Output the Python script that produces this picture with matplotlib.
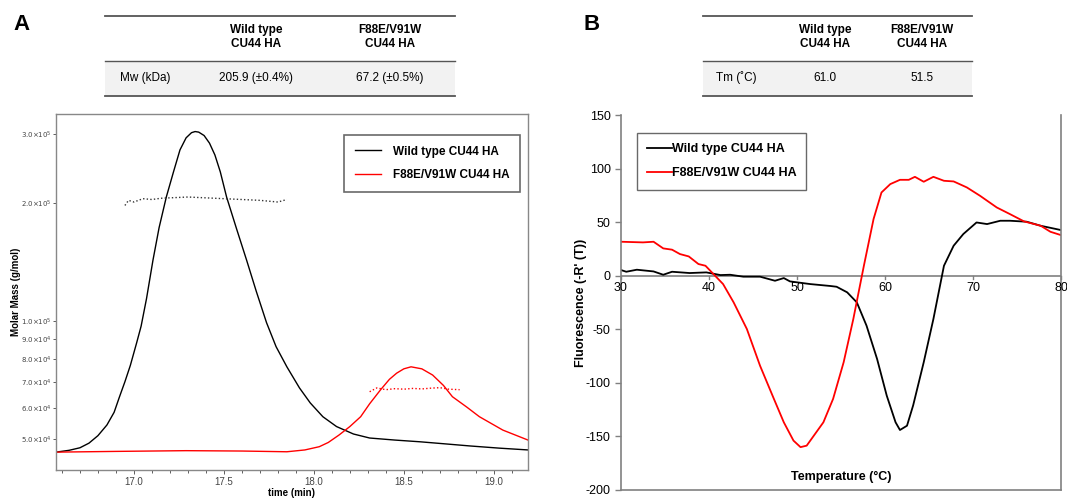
import matplotlib
matplotlib.use("Agg")
import matplotlib.pyplot as plt
from matplotlib.lines import Line2D
from matplotlib.patches import Rectangle

plt.rcParams['font.family'] = ['Liberation Sans', 'DejaVu Sans']
plt.rcParams['axes.unicode_minus'] = False

# ---- panel A: SEC-MALS ----
wt_time = [16.567, 16.64, 16.70, 16.75, 16.80, 16.85, 16.89, 16.92, 16.95, 16.98, 17.015, 17.04,
           17.07, 17.106, 17.14, 17.18, 17.22, 17.256, 17.29, 17.32, 17.34, 17.36, 17.39, 17.42,
           17.45, 17.48, 17.515, 17.57, 17.626, 17.68, 17.737, 17.79, 17.85, 17.92, 17.98, 18.05,
           18.126, 18.22, 18.31, 18.45, 18.59, 18.73, 18.87, 19.03, 19.19]
wt_signal = [46300, 46800, 47500, 48800, 51000, 54300, 58500, 64100, 70000, 77000, 87900, 97000,
             114000, 143000, 173000, 207000, 240000, 273000, 293000, 302000, 304000, 303000, 297000,
             284000, 265000, 240000, 207000, 172000, 143000, 119000, 99000, 86000, 76400, 67500,
             61800, 57000, 53800, 51500, 50300, 49700, 49200, 48600, 48000, 47400, 46900]

mut_time = [16.567, 16.9, 17.29, 17.6, 17.85, 17.95, 18.03, 18.08, 18.14, 18.20, 18.26, 18.31,
            18.37, 18.42, 18.46, 18.50, 18.54, 18.60, 18.66, 18.72, 18.77, 18.85, 18.92, 19.05, 19.19]
mut_signal = [46300, 46500, 46700, 46600, 46400, 46900, 47800, 49000, 51200, 53800, 57000, 61500,
              66700, 71000, 73600, 75500, 76400, 75500, 72800, 68500, 64100, 60300, 57000, 52700, 49700]

wt_mm_time = [16.95, 16.97, 17.0, 17.05, 17.1, 17.15, 17.2, 17.25, 17.3, 17.35, 17.4, 17.45, 17.5,
              17.55, 17.6, 17.65, 17.7, 17.75, 17.8, 17.85]
wt_mm = [197000, 203000, 201000, 205000, 204000, 205500, 206000, 206500, 207000, 206500, 206000,
         205500, 205000, 204500, 204000, 203500, 203000, 202000, 201000, 204000]

mut_mm_time = [18.31, 18.35, 18.40, 18.45, 18.50, 18.55, 18.60, 18.65, 18.70, 18.75, 18.81]
mut_mm = [66000, 67500, 66800, 67200, 67000, 67300, 67100, 67400, 67600, 67000, 66800]

mm_ticks = [5e4, 6e4, 7e4, 8e4, 9e4, 1e5, 2e5, 3e5]
mm_tick_labels = [r'$5.0{\times}10^{4}$', r'$6.0{\times}10^{4}$', r'$7.0{\times}10^{4}$',
                  r'$8.0{\times}10^{4}$', r'$9.0{\times}10^{4}$', r'$1.0{\times}10^{5}$',
                  r'$2.0{\times}10^{5}$', r'$3.0{\times}10^{5}$']
time_ticks = [17.0, 17.5, 18.0, 18.5, 19.0]

# ---- panel B: thermal melt ----
temp_wt = [30, 30.6, 31.8, 33.7, 34.8, 35.8, 37.8, 39.7, 41.3, 42.4, 43.9, 45.8, 47.5, 48.5, 49.2,
           51.5, 53.8, 54.5, 55.7, 56.8, 57.9, 59.1, 60.2, 61.2, 61.7, 62.5, 63.2, 64.4, 65.5,
           66.7, 67.8, 68.9, 70.4, 71.6, 73.1, 74.2, 76.1, 77.7, 80]
fl_wt = [5.3, 3.7, 5.6, 4.0, 0.9, 3.7, 2.5, 3.1, 0.6, 0.9, -0.9, -0.9, -4.7, -2.2, -5.3,
         -7.8, -9.6, -10.3, -15.5, -24.9, -46.6, -77.7, -112, -136.8, -144, -140, -121, -80.8, -40.4,
         9.3, 28, 38.9, 49.7, 48.2, 51.3, 51.3, 50.4, 46.6, 42.6]

temp_mut = [30, 32.5, 33.7, 34.8, 35.8, 36.7, 37.7, 38.8, 39.6, 40.5, 41.6, 42.8, 44.3, 45.8, 47.3,
            48.5, 49.6, 50.4, 51.1, 53.0, 54.1, 55.3, 56.4, 57.6, 58.7, 59.6, 60.6, 61.7, 62.7,
            63.4, 64.4, 65.5, 66.7, 67.8, 69.3, 70.8, 72.7, 74.2, 75.8, 77.7, 78.8, 80]
fl_mut = [31.7, 31.1, 31.7, 25.5, 24.3, 20.2, 18, 10.9, 9.3, 1.6, -7.8, -24.9, -49.7, -84, -113.5,
          -136.8, -153.9, -160, -158.6, -136.8, -115, -80.8, -40.4, 9.3, 52.9, 77.7, 85.5, 89.5, 89.5,
          92.3, 87.7, 92.3, 88.6, 88, 82.4, 74.6, 63.7, 57.5, 50.7, 46.6, 41, 37.9]

series_names = ['Wild type CU44 HA', 'F88E/V91W CU44 HA']
table_a_row = ['Mw (kDa)', '205.9 (\u00b10.4%)', '67.2 (\u00b10.5%)']
table_b_row = ['Tm (\u02daC)', '61.0', '51.5']
header_cols = ['Wild type\nCU44 HA', 'F88E/V91W\nCU44 HA']

W, H = 1067, 500
fig = plt.figure(figsize=(W / 100, H / 100), dpi=100)


def fx(px):
    return px / W


def fy(py):
    return 1 - py / H


# ---------- panel A ----------
axA = fig.add_axes([fx(56), fy(470), fx(472), 356 / H])
axA.plot(wt_time, wt_signal, color='black', lw=1.0, label=series_names[0])
axA.plot(mut_time, mut_signal, color='red', lw=1.0, label=series_names[1])
axA.plot(wt_mm_time, wt_mm, color='#333333', lw=1.0, ls=(0, (1, 1.6)))
axA.plot(mut_mm_time, mut_mm, color='red', lw=1.0, ls=(0, (1, 1.6)))
axA.set_yscale('log')
axA.set_xlim(16.567, 19.19)
axA.set_ylim(41690, 337000)
axA.set_yticks(mm_ticks)
axA.set_yticklabels(mm_tick_labels)
axA.minorticks_off()
axA.set_xticks(time_ticks)
axA.set_xticks([t / 10 for t in range(166, 192)], minor=True)
axA.set_xticklabels([f'{t:.1f}' for t in time_ticks])
axA.tick_params(axis='y', labelsize=5, colors='#444444', length=2, width=0.6, pad=1)
axA.tick_params(axis='x', which='major', labelsize=7, colors='#444444', length=3, width=0.6, pad=2)
axA.tick_params(axis='x', which='minor', length=2, width=0.6, colors='#444444')
for s in axA.spines.values():
    s.set_color('#888888')
    s.set_linewidth(1.0)
axA.set_ylabel('Molar Mass (g/mol)', fontsize=7, fontweight='bold')
axA.yaxis.set_label_coords(-0.075, 0.5)
axA.set_xlabel('time (min)', fontsize=7, fontweight='bold', labelpad=1)
legA = axA.legend(loc='upper right', bbox_to_anchor=(0.983, 0.941), borderaxespad=0,
                  fancybox=False, edgecolor='#444444', prop={'size': 8.5, 'weight': 'bold'},
                  handlelength=2.2, handletextpad=1.0, labelspacing=1.0, borderpad=0.9)
legA.get_frame().set_linewidth(1.2)

# ---------- panel B ----------
axB = fig.add_axes([fx(621), fy(490), fx(440), 375 / H])
axB.plot(temp_wt, fl_wt, color='black', lw=1.3, label=series_names[0])
axB.plot(temp_mut, fl_mut, color='red', lw=1.3, label=series_names[1])
axB.set_xlim(30, 80)
axB.set_ylim(-200, 150)
axB.set_yticks(range(-200, 151, 50))
axB.set_xticks(range(30, 81, 10))
axB.axhline(0, color='#808080', lw=1.2, zorder=1)
axB.spines['top'].set_visible(False)
for side in ['left', 'right', 'bottom']:
    axB.spines[side].set_color('#808080')
    axB.spines[side].set_linewidth(1.2)
axB.tick_params(axis='y', labelsize=9, colors='#808080', labelcolor='black', length=4, width=1.0)
axB.tick_params(axis='x', length=0, labelsize=9, labelcolor='black', pad=4)
# x tick labels sit on the zero line
axB.set_xticklabels([])
for t in range(30, 81, 10):
    axB.plot([t, t], [0, -3], color='#808080', lw=1.0, clip_on=False)
    axB.text(t, -6, str(t), ha='center', va='top', fontsize=9)
axB.set_ylabel("Fluorescence (-R' (T))", fontsize=9, fontweight='bold')
axB.yaxis.set_label_coords(-0.078, 0.5)
axB.text(0.5, 0.018, 'Temperature (\u00b0C)', transform=axB.transAxes, ha='center', va='bottom',
         fontsize=9, fontweight='bold')
legB = axB.legend(loc='upper left', bbox_to_anchor=(0.036, 0.952), borderaxespad=0,
                  fancybox=False, edgecolor='#444444', prop={'size': 9, 'weight': 'bold'},
                  handlelength=2.0, handletextpad=0.0, labelspacing=1.0, borderpad=0.8)
legB.get_frame().set_linewidth(1.0)

# ---------- panel letters ----------
fig.text(fx(22), fy(25), 'A', fontsize=16, fontweight='bold', ha='center', va='center')
fig.text(fx(592), fy(25), 'B', fontsize=16, fontweight='bold', ha='center', va='center')


# ---------- tables ----------
def draw_table(x0, x1, col_x, label_x, row):
    top, mid, bot = 16, 61, 96
    fig.add_artist(Rectangle((fx(x0), fy(bot)), fx(x1 - x0), (bot - mid) / H,
                             transform=fig.transFigure, facecolor='#f2f2f2', edgecolor='none'))
    for yy, lw in [(top, 1.3), (mid, 1.0), (bot, 1.3)]:
        fig.add_artist(Line2D([fx(x0), fx(x1)], [fy(yy), fy(yy)], color='#555555', lw=lw,
                              transform=fig.transFigure))
    for cx, txt in zip(col_x, header_cols):
        fig.text(fx(cx), fy(37), txt, ha='center', va='center', fontsize=8.5,
                 fontweight='bold', linespacing=1.15)
    fig.text(fx(label_x), fy(78), row[0], ha='left', va='center', fontsize=8.5)
    for cx, txt in zip(col_x, row[1:]):
        fig.text(fx(cx), fy(78), txt, ha='center', va='center', fontsize=8.5)


draw_table(105, 455, [256, 390], 120, table_a_row)
draw_table(703, 972, [825, 922], 716, table_b_row)

fig.savefig('out.png', dpi=100)
